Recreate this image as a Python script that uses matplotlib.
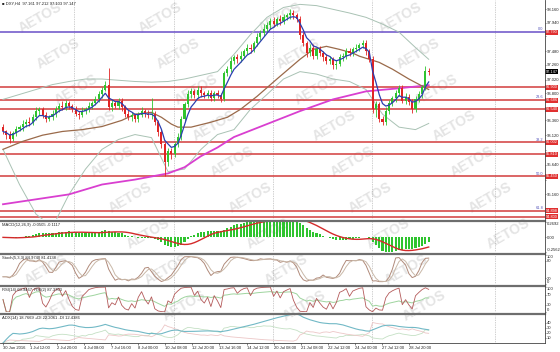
import numpy as np
import pandas as pd
import matplotlib
matplotlib.use("Agg")
import matplotlib.pyplot as plt
from matplotlib.lines import Line2D

plt.rcParams["font.family"] = ["Liberation Sans", "DejaVu Sans"]

# ---- values (DXY, H4) ----
first_open = 96.25
closes = [96.18, 96.12, 96.05, 96.15, 96.22, 96.25, 96.30, 96.34, 96.31, 96.41, 96.51,
          96.54, 96.44, 96.38, 96.41, 96.47, 96.54, 96.60, 96.57, 96.64, 96.60,
          96.54, 96.47, 96.44, 96.51, 96.54, 96.60, 96.64, 96.70,
          96.78, 96.86, 96.93, 96.57, 96.64, 96.60, 96.67, 96.57,
          96.47, 96.41, 96.44, 96.38, 96.44, 96.51, 96.47, 96.44, 96.47,
          96.34, 96.17, 95.97, 95.68, 95.86, 95.81, 95.97, 96.09,
          96.38, 96.62, 96.78, 96.83, 96.77, 96.86, 96.80,
          96.77, 96.80, 96.73, 96.80, 96.77, 96.70,
          97.12, 97.19, 97.32, 97.38, 97.35, 97.41, 97.48, 97.54, 97.51, 97.61, 97.71, 97.77,
          97.84, 97.90, 97.97, 97.93, 98.00, 97.97, 98.03, 98.06, 98.10, 98.06,
          98.00, 97.74, 97.61, 97.45, 97.54, 97.41, 97.51,
          97.45, 97.38, 97.32, 97.35, 97.25, 97.28, 97.38, 97.41, 97.48, 97.45, 97.51, 97.54,
          97.58, 97.61, 97.48, 97.35, 96.54, 96.62, 96.38, 96.34, 96.51,
          96.64, 96.72, 96.80, 96.89, 96.68, 96.74, 96.66, 96.54, 96.70, 96.78, 96.90, 97.16, 97.147]
wick_hi = [0.05, 0.03, 0.06, 0.04, 0.05, 0.03, 0.06, 0.04, 0.08, 0.05, 0.07, 0.04, 0.03, 0.05, 0.04, 0.06, 0.05, 0.04, 0.07, 0.05, 0.04,
           0.03, 0.05, 0.04, 0.06, 0.03, 0.05, 0.04, 0.06,
           0.05, 0.04, 0.06, 0.28, 0.05, 0.04, 0.06, 0.05,
           0.04, 0.05, 0.06, 0.03, 0.05, 0.07, 0.04, 0.05, 0.26,
           0.04, 0.03, 0.05, 0.04, 0.06, 0.05, 0.04, 0.06,
           0.05, 0.04, 0.07, 0.05, 0.04, 0.06, 0.05,
           0.04, 0.06, 0.05, 0.04, 0.05, 0.03,
           0.04, 0.05, 0.06, 0.04, 0.05, 0.07, 0.04, 0.06, 0.05, 0.04, 0.06, 0.05,
           0.08, 0.06, 0.05, 0.07, 0.04, 0.06, 0.05, 0.04, 0.06, 0.05,
           0.04, 0.05, 0.06, 0.04, 0.05, 0.06, 0.04,
           0.05, 0.04, 0.06, 0.05, 0.04, 0.06, 0.05, 0.04, 0.06, 0.05, 0.04, 0.05,
           0.04, 0.06, 0.05, 0.04, 0.05, 0.06, 0.04, 0.05, 0.06,
           0.05, 0.04, 0.06, 0.05, 0.04, 0.06, 0.05, 0.04, 0.05, 0.06, 0.04, 0.08, 0.051]
wick_lo = [0.04, 0.06, 0.05, 0.03, 0.05, 0.04, 0.06, 0.05, 0.04, 0.03, 0.05, 0.06, 0.04, 0.05, 0.03, 0.04, 0.06, 0.05, 0.04, 0.05, 0.06,
           0.05, 0.04, 0.06, 0.03, 0.05, 0.04, 0.05, 0.03,
           0.04, 0.05, 0.03, 0.05, 0.06, 0.04, 0.05, 0.06,
           0.05, 0.04, 0.06, 0.05, 0.04, 0.03, 0.05, 0.04, 0.05,
           0.05, 0.06, 0.05, 0.23, 0.06, 0.08, 0.05, 0.04,
           0.05, 0.04, 0.05, 0.06, 0.04, 0.05, 0.06,
           0.05, 0.04, 0.06, 0.05, 0.04, 0.05,
           0.03, 0.04, 0.05, 0.04, 0.06, 0.05, 0.04, 0.05, 0.06, 0.04, 0.05, 0.04,
           0.05, 0.04, 0.06, 0.05, 0.04, 0.06, 0.05, 0.04, 0.06, 0.05,
           0.05, 0.06, 0.05, 0.07, 0.05, 0.06, 0.05,
           0.04, 0.06, 0.05, 0.04, 0.06, 0.05, 0.04, 0.05, 0.06, 0.04, 0.05, 0.04,
           0.05, 0.04, 0.06, 0.05, 0.06, 0.12, 0.05, 0.06, 0.05,
           0.05, 0.04, 0.06, 0.05, 0.04, 0.06, 0.05, 0.06, 0.05, 0.04, 0.06, 0.05, 0.044]

# magenta (slow) and brown moving averages, read at a few bars
ma_slow_bars = [0, 10, 20, 30, 40, 50, 55, 60, 65, 70, 80, 90, 100, 110, 120, 129]
ma_slow = [95.00, 95.08, 95.16, 95.32, 95.40, 95.50, 95.60, 95.78, 95.92, 96.09,
           96.30, 96.51, 96.70, 96.83, 96.88, 96.93]
ma_mid_bars = [0, 6, 12, 18, 24, 30, 36, 40, 45, 48, 51, 53, 57, 63, 68, 72, 77, 83,
               90, 94, 98, 102, 106, 108, 114, 118, 123, 129]
ma_mid = [95.89, 96.02, 96.12, 96.18, 96.21, 96.26, 96.36, 96.46, 96.49, 96.41, 96.30,
          96.25, 96.25, 96.33, 96.41, 96.54, 96.75, 97.03, 97.35, 97.51, 97.56, 97.51,
          97.45, 97.40, 97.30, 97.19, 97.03, 96.86]

# Bollinger bands, read every 5 bars
bb_bars = list(range(0, 130, 5)) + [129]
bb_upper = [96.70, 96.78, 96.86, 96.94, 96.99, 97.03, 97.03, 97.01, 96.99, 96.98, 96.99,
            97.03, 97.09, 97.15, 97.43, 97.75, 98.03, 98.19, 98.24, 98.22, 98.16, 98.10,
            98.03, 97.92, 97.79, 97.54, 97.35]
bb_lower = [95.89, 95.32, 94.84, 94.63, 95.16, 95.57, 95.89, 96.05, 96.13, 96.08, 95.53,
            95.57, 95.89, 96.13, 96.21, 96.54, 96.78, 97.03, 97.15, 97.11, 97.03, 96.99,
            96.86, 96.46, 96.25, 96.21, 96.31]

# fibonacci retracement and other horizontal levels
fib_high, fib_low = 97.79, 93.11
fib_ratios = [0.0, 23.6, 38.2, 50.0, 61.8]
levels = [96.90, 96.54, 95.81, 94.80]

price_ticks = [98.16, 97.94, 97.72, 97.48, 97.26, 97.02, 96.80, 96.58, 96.36,
               96.12, 95.88, 95.64, 95.40, 95.16, 94.92]
time_labels = ["30 Jun 2016", "1 Jul 12:00", "2 Jul 20:00", "4 Jul 08:00", "7 Jul 16:00",
               "8 Jul 00:00", "10 Jul 08:00", "12 Jul 20:00", "13 Jul 16:00", "14 Jul 12:00",
               "20 Jul 08:00", "21 Jul 08:00", "22 Jul 12:00", "24 Jul 00:00",
               "27 Jul 12:00", "28 Jul 20:00"]

# ---- indicators ----
c = pd.Series(closes)
o = c.shift(1).fillna(first_open)
h = np.maximum(o, c) + pd.Series(wick_hi)
l = np.minimum(o, c) - pd.Series(wick_lo)
x = np.arange(len(c))

ema_fast = c.ewm(span=5, adjust=False).mean()

macd = c.ewm(span=12, adjust=False).mean() - c.ewm(span=26, adjust=False).mean()
macd_sig = macd.rolling(9, min_periods=1).mean()

ll = l.rolling(5, min_periods=1).min()
hh = h.rolling(5, min_periods=1).max()
stoch_k = 100 * (c - ll).rolling(3, min_periods=1).sum() / (hh - ll).rolling(3, min_periods=1).sum()
stoch_d = stoch_k.rolling(3, min_periods=1).mean()


def rsi(s, n):
    diff = s.diff().fillna(0)
    up = diff.clip(lower=0).ewm(alpha=1 / n, adjust=False).mean()
    dn = (-diff.clip(upper=0)).ewm(alpha=1 / n, adjust=False).mean()
    return (100 - 100 / (1 + up / dn.replace(0, np.nan))).fillna(50)


rsi_long = rsi(c, 14)
rsi_short = rsi(c, 2)

up_move = h.diff().fillna(0)
dn_move = -l.diff().fillna(0)
pdm = pd.Series(np.where((up_move > dn_move) & (up_move > 0), up_move, 0.0))
mdm = pd.Series(np.where((dn_move > up_move) & (dn_move > 0), dn_move, 0.0))
tr = pd.concat([h - l, (h - c.shift()).abs(), (l - c.shift()).abs()], axis=1).max(axis=1)
atr = tr.ewm(alpha=1 / 14, adjust=False).mean()
pdi = 100 * pdm.ewm(alpha=1 / 14, adjust=False).mean() / atr
mdi = 100 * mdm.ewm(alpha=1 / 14, adjust=False).mean() / atr
dx = (100 * (pdi - mdi).abs() / (pdi + mdi)).fillna(0)
adx = dx.ewm(alpha=1 / 14, adjust=False).mean()

# ---- layout (pixel based, MT4 style) ----
W, H = 560, 352
PW = 545          # plot width in px
BAR_PX, X0 = 3.3, 3.0
xlim = (-X0 / BAR_PX, (PW - X0) / BAR_PX)
LBL = 3.0         # small label font size

fig = plt.figure(figsize=(W / 100, H / 100), dpi=100, facecolor="white")


def panel(top, bottom):
    a = fig.add_axes([0, 1 - bottom / H, PW / W, (bottom - top) / H])
    a.set_facecolor("none")
    a.set_xlim(*xlim)
    for s in a.spines.values():
        s.set_visible(False)
    a.yaxis.tick_right()
    a.tick_params(axis="y", labelsize=LBL, length=1, width=0.4, pad=0.4, colors="#222222")
    a.tick_params(axis="x", bottom=False, labelbottom=False)
    return a


def edge_labels(a):
    # keep the first/last tick label inside the panel, like MT4
    lab = a.get_yticklabels()
    lim = a.get_ylim()
    for t, v in zip(lab, a.get_yticks()):
        if abs(v - lim[1]) < 1e-9:
            t.set_va("top")
        elif abs(v - lim[0]) < 1e-9:
            t.set_va("bottom")


ax = panel(0, 219)
ax_macd = panel(222, 252)
ax_st = panel(255, 284)
ax_rsi = panel(287, 312)
ax_adx = panel(315, 343)

# watermark
for r in range(10):
    for k in range(-2, 6):
        wx = 40 + 120 * k + 18 * r
        wy = 18 + 36 * r
        if 32 < wx < 520 and wy < 330:
            fig.text(wx / W, 1 - wy / H, "AETOS", fontsize=10, fontweight="bold",
                     color="#e4e4e4", rotation=30, ha="center", va="center", zorder=-5)

# grid separators
grid_px = [74, 174, 273, 372, 495]
for a in (ax, ax_macd, ax_st, ax_rsi, ax_adx):
    for gx in grid_px:
        a.axvline((gx - X0) / BAR_PX, color="#a0a0a0", lw=0.5, ls=(0, (1, 1.5)), zorder=0)

# ---- main chart ----
ax.set_ylim(94.761, 98.311)
fib_levels = [fib_high - (fib_high - fib_low) * r / 100 for r in fib_ratios]
box_levels = fib_levels + levels + [closes[-1]]
ax.set_yticks(price_ticks)
ax.set_yticklabels(["" if min(abs(p - b) for b in box_levels) < 0.075 else f"{p:.3f}"
                    for p in price_ticks])


def price_box(lv, fc):
    ax.text(1.0015, lv, f"{lv:.3f}", transform=ax.get_yaxis_transform(), ha="left",
            va="center", fontsize=LBL - 0.2, color="white", clip_on=False, zorder=6,
            bbox=dict(boxstyle="square,pad=0.12", fc=fc, ec="none"))


for lv in levels:
    ax.axhline(lv, color="#d23c3c", lw=1.1, zorder=1)
    price_box(lv, "#e03030")
for r, lv in zip(fib_ratios, fib_levels):
    ax.axhline(lv, color="#6a4fc8" if r == 0 else "#d23c3c", lw=1.1, zorder=1)
    ax.text(0.997, lv + 0.015, f"{r:.1f}", transform=ax.get_yaxis_transform(), ha="right",
            va="bottom", fontsize=2.8, color="#5050b8")
    price_box(lv, "#e03030")

ax.plot(bb_bars, bb_upper, color="#a9c2b4", lw=0.7, zorder=2)
ax.plot(bb_bars, bb_lower, color="#a9c2b4", lw=0.7, zorder=2)
ax.plot(ma_slow_bars, ma_slow, color="#d93fd0", lw=1.3, zorder=3)
ax.plot(ma_mid_bars, ma_mid, color="#9a6a4a", lw=0.9, zorder=3)

up = c >= o
col = np.where(up, "#2fc42f", "#e02424")
ax.vlines(x, l, h, colors=col, lw=0.6, zorder=4)
ax.bar(x, (c - o).abs().clip(lower=0.012), bottom=np.minimum(o, c), width=0.62, color=col,
       lw=0, zorder=5)
ax.plot(x, ema_fast, color="#2b3fb0", lw=0.9, zorder=6)

price_box(closes[-1], "black")
ax.text(0.004, 0.995, "\u25a0 DXY,H4  97.161 97.212 97.103 97.147", transform=ax.transAxes,
        fontsize=LBL, va="top", ha="left", color="#222222")

# ---- MACD ----
ax_macd.bar(x, macd, width=0.62, color="#2fc42f", lw=0, zorder=2)
ax_macd.plot(x, macd_sig, color="#d42a2a", lw=1.0, zorder=3)
ax_macd.set_ylim(-0.2562, 0.2692)
ax_macd.set_yticks([0.2692, 0.0, -0.2562])
ax_macd.set_yticklabels(["0.2692", "0.00", "-0.2562"])
ax_macd.text(0.004, 0.97, "MACD(12,26,9) -0.0505 -0.1117", transform=ax_macd.transAxes,
             fontsize=LBL, va="top", color="#222222")

# ---- Stochastic ----
ax_st.plot(x, stoch_k, color="#b08a7a", lw=0.7)
ax_st.plot(x, stoch_d, color="#c9b8a8", lw=0.7)
ax_st.set_ylim(0, 100)
ax_st.set_yticks([100, 80, 20, 0])
ax_st.text(0.004, 0.97, "Stoch(5,3,3) 84.9740 81.4138", transform=ax_st.transAxes,
           fontsize=LBL, va="top", color="#222222")

# ---- RSI ----
ax_rsi.plot(x, rsi_long, color="#9ed49e", lw=0.7)
ax_rsi.plot(x, rsi_short, color="#b45a5a", lw=0.6)
ax_rsi.set_ylim(0, 100)
ax_rsi.set_yticks([100, 70, 30, 0])
ax_rsi.text(0.004, 0.97, "RSI(14) 60.9467  RSI(2) 87.3763", transform=ax_rsi.transAxes,
            fontsize=LBL, va="top", color="#222222")

# ---- ADX ----
ax_adx.plot(x, pdi, color="#c4e0c4", lw=0.6)
ax_adx.plot(x, mdi, color="#ecc6c6", lw=0.6)
ax_adx.plot(x, adx, color="#72b9c6", lw=0.8)
ax_adx.set_ylim(0, 55)
ax_adx.set_yticks([40, 30, 20, 10])
ax_adx.text(0.004, 0.97, "ADX(14) 18.7669 +DI 22.2061 -DI 12.4386", transform=ax_adx.transAxes,
            fontsize=LBL, va="top", color="#222222")

for a in (ax_macd, ax_st, ax_rsi):
    edge_labels(a)

# time axis
ax_adx.tick_params(axis="x", bottom=True, labelbottom=True, labelsize=LBL, length=1.5,
                   width=0.4, pad=0.8, colors="#222222")
ax_adx.set_xticks(np.arange(len(time_labels)) * 8.2)
ax_adx.set_xticklabels(time_labels, ha="left")

# frame lines
for sep in (220.5, 253.5, 285.5, 313.5):
    fig.add_artist(Line2D([0, PW / W], [1 - sep / H] * 2, color="#6e6e6e", lw=1.6))
fig.add_artist(Line2D([PW / W] * 2, [1 - 343 / H, 1], color="#444444", lw=0.6))
fig.add_artist(Line2D([0, PW / W], [1 - 343 / H] * 2, color="#444444", lw=0.6))

fig.savefig("out.png", dpi=100, facecolor="white")
